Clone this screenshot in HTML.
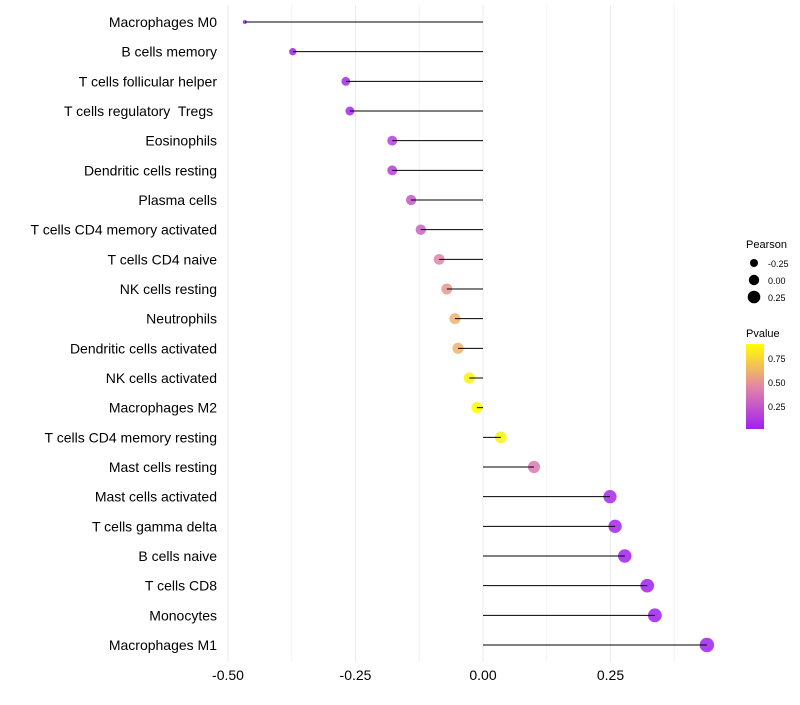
<!DOCTYPE html>
<html><head><meta charset="utf-8"><style>
body{margin:0;background:#fff;font-family:"Liberation Sans",sans-serif}
svg text{font-family:"Liberation Sans",sans-serif;white-space:pre}
</style></head><body>
<svg id="chart" width="800" height="700" xmlns="http://www.w3.org/2000/svg">
<defs><linearGradient id="pg" x1="0" y1="1" x2="0" y2="0">
<stop offset="0" stop-color="#A020F0"/><stop offset="0.5" stop-color="#E486A6"/><stop offset="1" stop-color="#FFFF00"/></linearGradient></defs>
<g id="grid"></g>
<g id="marks"></g>
<g id="ylabels"></g>
<g id="xlabels"></g>
<g>
<text x="746" y="248" font-size="11">Pearson</text>
<circle cx="754" cy="263" r="4" fill="#000"/><text x="768" y="267" font-size="9">-0.25</text>
<circle cx="754" cy="280" r="5.2" fill="#000"/><text x="768" y="284" font-size="9">0.00</text>
<circle cx="754" cy="297" r="6.3" fill="#000"/><text x="768" y="301" font-size="9">0.25</text>
</g>
<g>
<text x="746" y="337" font-size="11">Pvalue</text>
<rect x="746" y="344" width="18" height="85" fill="url(#pg)"/>
<text x="768" y="362" font-size="9">0.75</text>
<text x="768" y="386" font-size="9">0.50</text>
<text x="768" y="410" font-size="9">0.25</text>
</g>
</svg>
<script>
const categories=["Macrophages M0","B cells memory","T cells follicular helper","T cells regulatory  Tregs ","Eosinophils","Dendritic cells resting","Plasma cells","T cells CD4 memory activated","T cells CD4 naive","NK cells resting","Neutrophils","Dendritic cells activated","NK cells activated","Macrophages M2","T cells CD4 memory resting","Mast cells resting","Mast cells activated","T cells gamma delta","B cells naive","T cells CD8","Monocytes","Macrophages M1"];
const pearson=[-0.467,-0.373,-0.269,-0.261,-0.178,-0.178,-0.141,-0.122,-0.086,-0.071,-0.055,-0.049,-0.027,-0.012,0.035,0.100,0.249,0.259,0.278,0.322,0.337,0.439];
const pvalue=[0.005,0.03,0.06,0.06,0.15,0.15,0.25,0.3,0.45,0.52,0.62,0.62,0.85,0.97,0.85,0.4,0.06,0.04,0.03,0.02,0.01,0.003];
const xTicks=[-0.5,-0.25,0,0.25];
const xTickLabels=["-0.50","-0.25","0.00","0.25"];
const minorTicks=[-0.375,-0.125,0.125,0.375];
const NS="http://www.w3.org/2000/svg";
const x=v=>483+v*510;
const y=i=>22+i*(623/21);
const pMin=Math.min(...pearson),pMax=Math.max(...pearson);
const rScale=v=>2+5.2*Math.sqrt(Math.max(0,(v-pMin)/(pMax-pMin)));
function lerp(a,b,t){return a.map((c,i)=>Math.round(c+(b[i]-c)*t));}
function color(p){const t=Math.max(0,Math.min(1,(p-0.02)/0.88));const a=[160,32,240],m=[228,134,166],b=[255,255,0];const c=t<0.5?lerp(a,m,t*2):lerp(m,b,(t-0.5)*2);return `rgb(${c.join(',')})`;}
function mk(tag,attrs,parent){const e=document.createElementNS(NS,tag);for(const k in attrs)e.setAttribute(k,attrs[k]);parent.appendChild(e);return e;}
const grid=document.getElementById('grid'),marks=document.getElementById('marks'),yl=document.getElementById('ylabels'),xl=document.getElementById('xlabels');
minorTicks.forEach(t=>{const l=mk('line',{x1:x(t),x2:x(t),y1:5,y2:662,stroke:'#f2f2f2','stroke-width':1},grid);

});
xTicks.forEach(t=>{const l=mk('line',{x1:x(t),x2:x(t),y1:5,y2:662,stroke:'#ebebeb','stroke-width':1},grid);

});
xTicks.forEach((t,i)=>{const tx=mk('text',{x:x(t),y:680,'font-size':14,'text-anchor':'middle',fill:'#000'},xl);tx.textContent=xTickLabels[i];

});
categories.forEach((c,i)=>{
const tx=mk('text',{x:217,y:y(i)+5,'font-size':14,'text-anchor':'end',fill:'#000'},yl);tx.textContent=c;


const pt=mk('circle',{cx:x(pearson[i]),cy:y(i),r:rScale(pearson[i]),fill:color(pvalue[i]),'fill-opacity':0.85},marks);


const ln=mk('line',{x1:x(0),x2:x(pearson[i]),y1:y(i),y2:y(i),stroke:'#000','stroke-width':1},marks);


});
</script>
</body></html>
